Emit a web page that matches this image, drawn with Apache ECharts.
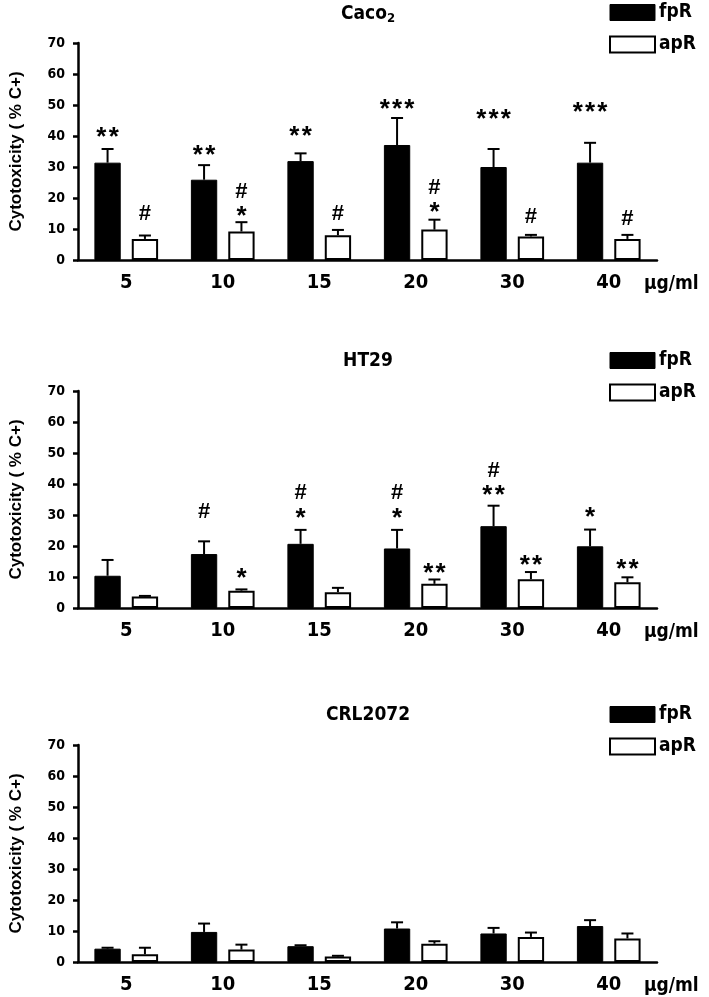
<!DOCTYPE html>
<html>
<head>
<meta charset="utf-8">
<script src="https://cdn.jsdelivr.net/npm/echarts@6/dist/echarts.min.js"></script>
<style>
html, body { margin: 0; padding: 0; background: #fff; }
#chart { width: 709px; height: 997px; }
</style>
</head>
<body>
<div id="chart"></div>
<script>
// doses on the x axis (µg/ml)
const categories = ['5', '10', '15', '20', '30', '40']
const seriesNames = ['fpR', 'apR']

// Caco2 panel: mean and upper end of error bar
const caco2Fpr = [31.4, 25.9, 31.9, 37.1, 30.0, 31.4]
const caco2FprUpper = [35.8, 30.6, 34.4, 45.8, 35.8, 37.8]
const caco2Apr = [6.8, 9.2, 8.0, 9.8, 7.6, 6.8]
const caco2AprUpper = [7.9, 12.2, 9.7, 13.0, 8.1, 8.1]
// significance marks: [category index, bar (0 fpR / 1 apR), level, text]
const caco2Marks = [
  [0, 0, 41.4, '**'], [0, 1, 14.9, '#'],
  [1, 0, 35.4, '**'], [1, 1, 21.9, '#'], [1, 1, 16.0, '*'],
  [2, 0, 41.7, '**'], [2, 1, 14.9, '#'],
  [3, 0, 50.3, '***'], [3, 1, 23.3, '#'], [3, 1, 17.1, '*'],
  [4, 0, 47.3, '***'], [4, 1, 13.8, '#'],
  [5, 0, 49.3, '***'], [5, 1, 13.3, '#']
]

// HT29 panel
const ht29Fpr = [10.4, 17.4, 20.7, 19.2, 26.4, 19.9]
const ht29FprUpper = [15.5, 21.5, 25.2, 25.2, 33.0, 25.3]
const ht29Apr = [3.7, 5.6, 5.1, 7.8, 9.3, 8.3]
const ht29AprUpper = [3.9, 6.0, 6.5, 9.2, 11.6, 9.9]
const ht29Marks = [
  [1, 0, 30.9, '#'], [1, 1, 11.5, '*'],
  [2, 0, 37.0, '#'], [2, 0, 30.6, '*'],
  [3, 0, 37.0, '#'], [3, 0, 30.6, '*'], [3, 1, 12.9, '**'],
  [4, 0, 44.2, '#'], [4, 0, 38.1, '**'], [4, 1, 15.5, '**'],
  [5, 0, 30.9, '*'], [5, 1, 14.2, '**']
]

// CRL2072 panel
const crlFpr = [4.3, 9.7, 5.1, 10.8, 9.2, 11.6]
const crlFprUpper = [4.6, 12.4, 5.4, 12.8, 11.0, 13.5]
const crlApr = [2.5, 4.0, 1.8, 5.9, 8.1, 7.6]
const crlAprUpper = [4.6, 5.6, 2.0, 6.7, 9.5, 9.2]
const crlMarks = []

const panels = [
  { title: 'Caco{s|2}', fpr: caco2Fpr, fprUp: caco2FprUpper, apr: caco2Apr, aprUp: caco2AprUpper, marks: caco2Marks, top: 43 },
  { title: 'HT29', fpr: ht29Fpr, fprUp: ht29FprUpper, apr: ht29Apr, aprUp: ht29AprUpper, marks: ht29Marks, top: 391 },
  { title: 'CRL2072', fpr: crlFpr, fprUp: crlFprUpper, apr: crlApr, aprUp: crlAprUpper, marks: crlMarks, top: 745 }
]

const NARROW = "'Liberation Sans Narrow', 'DejaVu Sans Condensed', sans-serif"
const SANS = "'Liberation Sans', Arial, sans-serif"
const CAT_GAP = 0.34
const BAR_GAP = 0.42

function barOffset(api, barIdx) {
  const band = api.size([1, 0])[0]
  const w = (1 - CAT_GAP) * band / (2 + BAR_GAP)
  return (barIdx === 0 ? -1 : 1) * w * (1 + BAR_GAP) / 2
}

const option = {
  animation: false,
  title: [], legend: [], grid: [], xAxis: [], yAxis: [], series: []
}

panels.forEach((p, i) => {
  option.title.push({
    text: p.title,
    left: 363, top: p.top - 44, textAlign: 'center',
    textStyle: {
      fontFamily: NARROW, fontWeight: 'bold', fontSize: 19, color: '#000',
      rich: { s: { fontFamily: NARROW, fontWeight: 'bold', fontSize: 13, padding: [8, 0, 0, 0], color: '#000' } }
    }
  })
  option.legend.push({
    orient: 'vertical', left: 604, top: p.top - 45,
    itemWidth: 45, itemHeight: 16, itemGap: 13,
    textStyle: { fontFamily: NARROW, fontWeight: 'bold', fontSize: 19, color: '#000', padding: [0, 0, 0, -1] },
    data: [
      { name: 'fpR', icon: 'rect', itemStyle: { color: '#000', borderColor: '#000', borderWidth: 1 } },
      { name: 'apR', icon: 'rect', itemStyle: { color: '#fff', borderColor: '#000', borderWidth: 2 } }
    ]
  })
  option.grid.push({ left: 70, top: p.top, width: 587, height: 217 })
  option.xAxis.push({
    type: 'category', gridIndex: i, data: categories,
    axisLine: { lineStyle: { color: '#000', width: 2.5 } },
    axisTick: { alignWithLabel: true, length: 6, lineStyle: { color: '#000', width: 2.5 } },
    axisLabel: { fontFamily: NARROW, fontWeight: 'bold', fontSize: 20, color: '#000', margin: 13 },
    name: 'μg/ml', nameLocation: 'end', nameGap: -13,
    nameTextStyle: { fontFamily: NARROW, fontWeight: 'bold', fontSize: 19, color: '#000', verticalAlign: 'top', padding: [15, 0, 0, 0] }
  })
  option.yAxis.push({
    type: 'value', gridIndex: i, min: 0, max: 70, interval: 10,
    axisLine: { show: true, lineStyle: { color: '#000', width: 2.5 } },
    axisTick: { show: true, length: 5, lineStyle: { color: '#000', width: 2.5 } },
    splitLine: { show: false },
    axisLabel: { fontFamily: NARROW, fontWeight: 'bold', fontSize: 14, color: '#000', margin: 13 },
    name: 'Cytotoxicity ( % C+)', nameLocation: 'middle', nameRotate: 90, nameGap: 53,
    nameTextStyle: { fontFamily: SANS, fontWeight: 'bold', fontSize: 17, color: '#000' }
  })

  option.series.push({
    name: 'fpR', type: 'bar', xAxisIndex: i, yAxisIndex: i, data: p.fpr,
    barCategoryGap: (CAT_GAP * 100) + '%', barGap: (BAR_GAP * 100) + '%',
    itemStyle: { color: '#000', borderColor: '#000', borderWidth: 1 }
  })
  option.series.push({
    name: 'apR', type: 'bar', xAxisIndex: i, yAxisIndex: i, data: p.apr,
    barCategoryGap: (CAT_GAP * 100) + '%', barGap: (BAR_GAP * 100) + '%',
    itemStyle: { color: '#fff', borderColor: '#000', borderWidth: 2 }
  })

  // error bars (upper half only)
  const errData = []
  categories.forEach((c, k) => {
    errData.push([k, p.fpr[k], p.fprUp[k], 0])
    errData.push([k, p.apr[k], p.aprUp[k], 1])
  })
  option.series.push({
    type: 'custom', xAxisIndex: i, yAxisIndex: i, data: errData, z: 1,
    encode: { x: 0, y: [1, 2] },
    renderItem: (params, api) => {
      const off = barOffset(api, api.value(3))
      const base = api.coord([api.value(0), api.value(1)])
      const up = api.coord([api.value(0), api.value(2)])
      const x = base[0] + off
      const style = { stroke: '#000', lineWidth: 2 }
      return {
        type: 'group',
        children: [
          { type: 'line', shape: { x1: x, y1: base[1], x2: x, y2: up[1] }, style },
          { type: 'line', shape: { x1: x - 6, y1: up[1], x2: x + 6, y2: up[1] }, style }
        ]
      }
    }
  })

  // significance marks
  option.series.push({
    type: 'custom', xAxisIndex: i, yAxisIndex: i, z: 3,
    data: p.marks.map(m => [m[0], m[2], m[1]]),
    encode: { x: 0, y: 1 },
    renderItem: (params, api) => {
      const txt = p.marks[params.dataIndex][3]
      const pt = api.coord([api.value(0), api.value(1)])
      const x = pt[0] + barOffset(api, api.value(2))
      const star = txt.indexOf('*') >= 0
      const size = star ? 26 : 22
      return {
        type: 'text',
        style: {
          x, y: pt[1] + (star ? 6 : 0),
          text: star ? txt.split('').join('\u200A') : txt,
          fill: '#000', align: 'center', verticalAlign: 'middle',
          font: 'bold ' + size + 'px ' + SANS
        }
      }
    }
  })
})

const chart = echarts.init(document.getElementById('chart'))
chart.setOption(option)
window.addEventListener('resize', () => chart.resize())
</script>
</body>
</html>
